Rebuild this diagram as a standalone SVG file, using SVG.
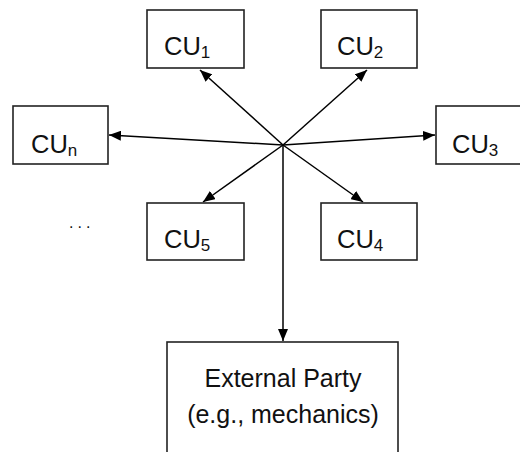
<svg xmlns="http://www.w3.org/2000/svg" width="520" height="452" viewBox="0 0 520 452">
<style>
.box{fill:#fff;stroke:#222;stroke-width:1.6}
.lbl{font-family:"Liberation Sans",Arial,sans-serif;font-size:25px;fill:#111}
.cu{font-size:25.5px}
.sub{font-size:17px}
.edge{stroke:#000;stroke-width:1.5;fill:none;marker-end:url(#ah)}
</style>
<defs>
<marker id="ah" viewBox="0 0 12 10" refX="12" refY="5" markerWidth="12" markerHeight="10" markerUnits="userSpaceOnUse" orient="auto">
<path d="M0,0 L12,5 L0,10 Z" fill="#000"/>
</marker>
</defs>
<rect width="520" height="452" fill="#fff"/>
<g id="connectors">
<line class="edge" x1="283" y1="145" x2="200" y2="70"/>
<line class="edge" x1="283" y1="145" x2="367" y2="70"/>
<line class="edge" x1="283" y1="145" x2="109" y2="135"/>
<line class="edge" x1="283" y1="145" x2="435" y2="135"/>
<line class="edge" x1="283" y1="145" x2="203" y2="202"/>
<line class="edge" x1="283" y1="145" x2="363" y2="202"/>
<line class="edge" x1="283" y1="145" x2="283" y2="341"/>
</g>
<g id="cu1">
<rect class="box" x="147" y="10" width="97" height="58"/>
<text class="lbl cu" x="164" y="55">CU<tspan class="sub" dy="3">1</tspan></text>
</g>
<g id="cu2">
<rect class="box" x="321" y="10" width="96" height="58"/>
<text class="lbl cu" x="337" y="55">CU<tspan class="sub" dy="3">2</tspan></text>
</g>
<g id="cun">
<rect class="box" x="13" y="106" width="95" height="58"/>
<text class="lbl cu" x="31" y="153">CU<tspan class="sub" dy="3">n</tspan></text>
</g>
<g id="cu3">
<rect class="box" x="436" y="106" width="100" height="58"/>
<text class="lbl cu" x="452" y="153">CU<tspan class="sub" dy="3">3</tspan></text>
</g>
<g id="cu5">
<rect class="box" x="147" y="203" width="97" height="57"/>
<text class="lbl cu" x="164" y="248">CU<tspan class="sub" dy="3">5</tspan></text>
</g>
<g id="cu4">
<rect class="box" x="321" y="203" width="96" height="57"/>
<text class="lbl cu" x="337" y="248">CU<tspan class="sub" dy="3">4</tspan></text>
</g>
<g id="dots">
<text class="lbl" x="69" y="228" style="font-size:16px;letter-spacing:4px">...</text>
</g>
<g id="external">
<rect class="box" x="167" y="342" width="231" height="130"/>
<text class="lbl" x="283" y="387" text-anchor="middle">External Party</text>
<text class="lbl" x="283" y="423" text-anchor="middle">(e.g., mechanics)</text>
</g>
</svg>
